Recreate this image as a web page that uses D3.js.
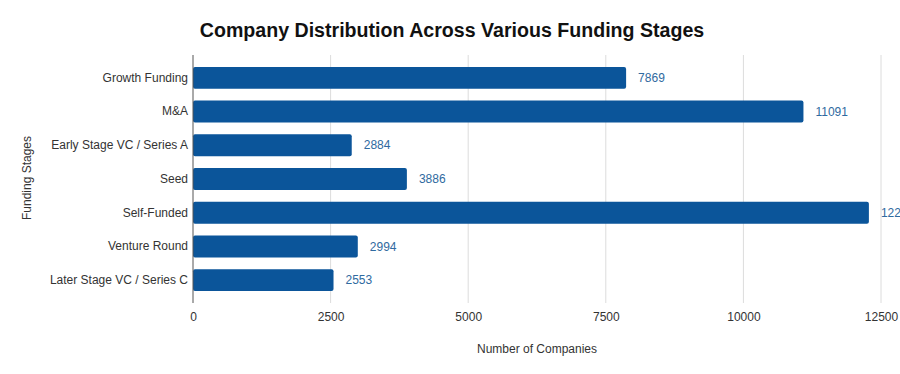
<!DOCTYPE html>
<html>
<head>
<meta charset="utf-8">
<script src="https://cdn.jsdelivr.net/npm/d3@7"></script>
<style>
  body { margin: 0; background: #fff; }
  svg { font-family: "Liberation Sans", Arial, sans-serif; }
</style>
</head>
<body>
<svg id="chart"></svg>
<script>
// data
const stages = ["Growth Funding", "M&A", "Early Stage VC / Series A", "Seed",
                "Self-Funded", "Venture Round", "Later Stage VC / Series C"];
const companies = [7869, 11091, 2884, 3886, 12280, 2994, 2553];
const xTicks = [0, 2500, 5000, 7500, 10000, 12500];

const width = 900, height = 374;
const margin = { top: 61, right: 19, bottom: 77, left: 193 };

const svg = d3.select("#chart")
    .attr("width", width)
    .attr("height", height);

const xScale = d3.scaleLinear()
    .domain([0, 12500])
    .range([margin.left, width - margin.right]);

const yScale = d3.scaleBand()
    .domain(stages)
    .range([margin.top, height - margin.bottom])
    .paddingInner(0.35)
    .paddingOuter(0.175);

// grid lines
svg.append("g")
    .selectAll("line")
    .data(xTicks.slice(1))
    .join("line")
    .attr("x1", d => xScale(d))
    .attr("x2", d => xScale(d))
    .attr("y1", 55)
    .attr("y2", 303)
    .attr("stroke", "#dcdcdc")
    .attr("stroke-width", 1);

// x axis labels
const xAxis = svg.append("g")
    .attr("transform", `translate(0, 303)`)
    .call(d3.axisBottom(xScale).tickValues(xTicks).tickSize(0).tickPadding(9).tickFormat(d3.format("d")));
xAxis.select(".domain").remove();
xAxis.selectAll("text")
    .attr("font-size", 12)
    .attr("fill", "#333")
    .attr("font-family", "Liberation Sans, Arial, sans-serif");

// bars
svg.append("g")
    .selectAll("rect")
    .data(stages)
    .join("rect")
    .attr("x", xScale(0))
    .attr("y", d => yScale(d))
    .attr("width", (d, i) => xScale(companies[i]) - xScale(0))
    .attr("height", yScale.bandwidth())
    .attr("rx", 2)
    .attr("fill", "#0b559a");

// value labels
svg.append("g")
    .selectAll("text")
    .data(stages)
    .join("text")
    .attr("x", (d, i) => xScale(companies[i]) + 12)
    .attr("y", d => yScale(d) + yScale.bandwidth() / 2)
    .attr("dy", "0.35em")
    .attr("font-size", 12)
    .attr("fill", "#2f6aa0")
    .text((d, i) => companies[i]);

// y axis
const yAxis = svg.append("g")
    .attr("transform", `translate(${margin.left}, 0)`)
    .call(d3.axisLeft(yScale).tickSize(0).tickPadding(5));
yAxis.select(".domain").remove();
yAxis.selectAll("text")
    .attr("font-size", 12)
    .attr("fill", "#333")
    .attr("font-family", "Liberation Sans, Arial, sans-serif");

svg.append("line")
    .attr("x1", xScale(0)).attr("x2", xScale(0))
    .attr("y1", 55).attr("y2", 303)
    .attr("stroke", "#555")
    .attr("stroke-width", 1);

// titles
svg.append("text")
    .attr("x", 452)
    .attr("y", 37)
    .attr("text-anchor", "middle")
    .attr("font-size", 19.6)
    .attr("font-weight", "bold")
    .attr("fill", "#111")
    .text("Company Distribution Across Various Funding Stages");

svg.append("text")
    .attr("x", 537)
    .attr("y", 353)
    .attr("text-anchor", "middle")
    .attr("font-size", 12)
    .attr("fill", "#333")
    .text("Number of Companies");

svg.append("text")
    .attr("transform", "translate(31, 178) rotate(-90)")
    .attr("text-anchor", "middle")
    .attr("font-size", 12)
    .attr("fill", "#333")
    .text("Funding Stages");
</script>
</body>
</html>
